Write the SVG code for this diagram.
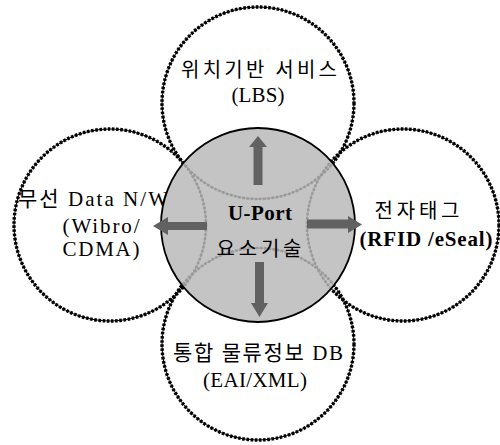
<svg xmlns="http://www.w3.org/2000/svg" width="500" height="445" viewBox="0 0 500 445">
  <style>
    .ring-line { fill: none; stroke: #000; stroke-width: 1; }
    .ring-dots { fill: none; stroke: #000; stroke-width: 3.4; stroke-dasharray: 2.6 1.6; }
    .inner-line { fill: none; stroke: #9a9a9a; stroke-width: 0.8; }
    .inner-dots { fill: none; stroke: #9a9a9a; stroke-width: 2.6; stroke-dasharray: 2.6 1.6; }
    .core { fill: #c4c4c4; stroke: #000; stroke-width: 1.8; }
    .arrow { fill: #616161; }
    text { font-family: "Liberation Serif", "Noto Sans CJK KR", serif; font-size: 21px; fill: #000; text-anchor: middle; }
    .ko { font-family: "Noto Sans CJK KR", "Liberation Serif", sans-serif; font-size: 20px; }
    .b { font-weight: bold; }
  </style>
  <defs>
    <clipPath id="core-clip">
      <circle cx="258" cy="225" r="96"/>
    </clipPath>
    <circle id="ring-top" cx="258" cy="103" r="96"/>
    <circle id="ring-bottom" cx="258" cy="344" r="96"/>
    <circle id="ring-left" cx="110" cy="225" r="96"/>
    <circle id="ring-right" cx="403" cy="225" r="96"/>
  </defs>

  <!-- outer service circles -->
  <g id="node-lbs">
    <use href="#ring-top" class="ring-line"/>
    <use href="#ring-top" class="ring-dots"/>
    <text x="259" y="77" class="ko" textLength="156">위치기반 서비스</text>
    <text x="258" y="102" textLength="53">(LBS)</text>
  </g>
  <g id="node-network">
    <use href="#ring-left" class="ring-line"/>
    <use href="#ring-left" class="ring-dots"/>
    <text x="18" y="206" style="text-anchor:start" textLength="150">무선 Data N/W</text>
    <text x="101" y="233" textLength="77">(Wibro/</text>
    <text x="101" y="256" textLength="77">CDMA)</text>
  </g>
  <g id="node-rfid">
    <use href="#ring-right" class="ring-line"/>
    <use href="#ring-right" class="ring-dots"/>
    <text x="417" y="218" class="ko" textLength="85">전자태그</text>
    <text x="426" y="246" class="b" textLength="133">(RFID /eSeal)</text>
  </g>
  <g id="node-db">
    <use href="#ring-bottom" class="ring-line"/>
    <use href="#ring-bottom" class="ring-dots"/>
    <text x="258" y="360" textLength="170">통합 물류정보 DB</text>
    <text x="255" y="387" textLength="104">(EAI/XML)</text>
  </g>

  <!-- central core circle with the overlapping arcs showing through -->
  <g id="node-core">
    <circle cx="258" cy="225" r="97" class="core"/>
    <g clip-path="url(#core-clip)">
      <use href="#ring-top" class="inner-line"/>
      <use href="#ring-top" class="inner-dots"/>
      <use href="#ring-bottom" class="inner-line"/>
      <use href="#ring-bottom" class="inner-dots"/>
      <use href="#ring-left" class="inner-line"/>
      <use href="#ring-left" class="inner-dots"/>
      <use href="#ring-right" class="inner-line"/>
      <use href="#ring-right" class="inner-dots"/>
    </g>
    <text x="260" y="220" class="b" textLength="64">U-Port</text>
    <text x="259" y="256" class="ko" textLength="85">요소기술</text>
  </g>

  <!-- arrows from the core to each service -->
  <g id="connectors">
    <polygon class="arrow" points="253.5,185 253.5,147 249,147 258,136 267,147 262.5,147 262.5,185"/>
    <polygon class="arrow" points="255,262 255,303 251,303 259.5,317 268,303 264,303 264,262"/>
    <polygon class="arrow" points="207,222 168,222 168,217 153,226 168,235 168,230 207,230"/>
    <polygon class="arrow" points="307,219.5 348,219.5 348,216 362,224.5 348,233 348,228.5 307,228.5"/>
  </g>
</svg>
